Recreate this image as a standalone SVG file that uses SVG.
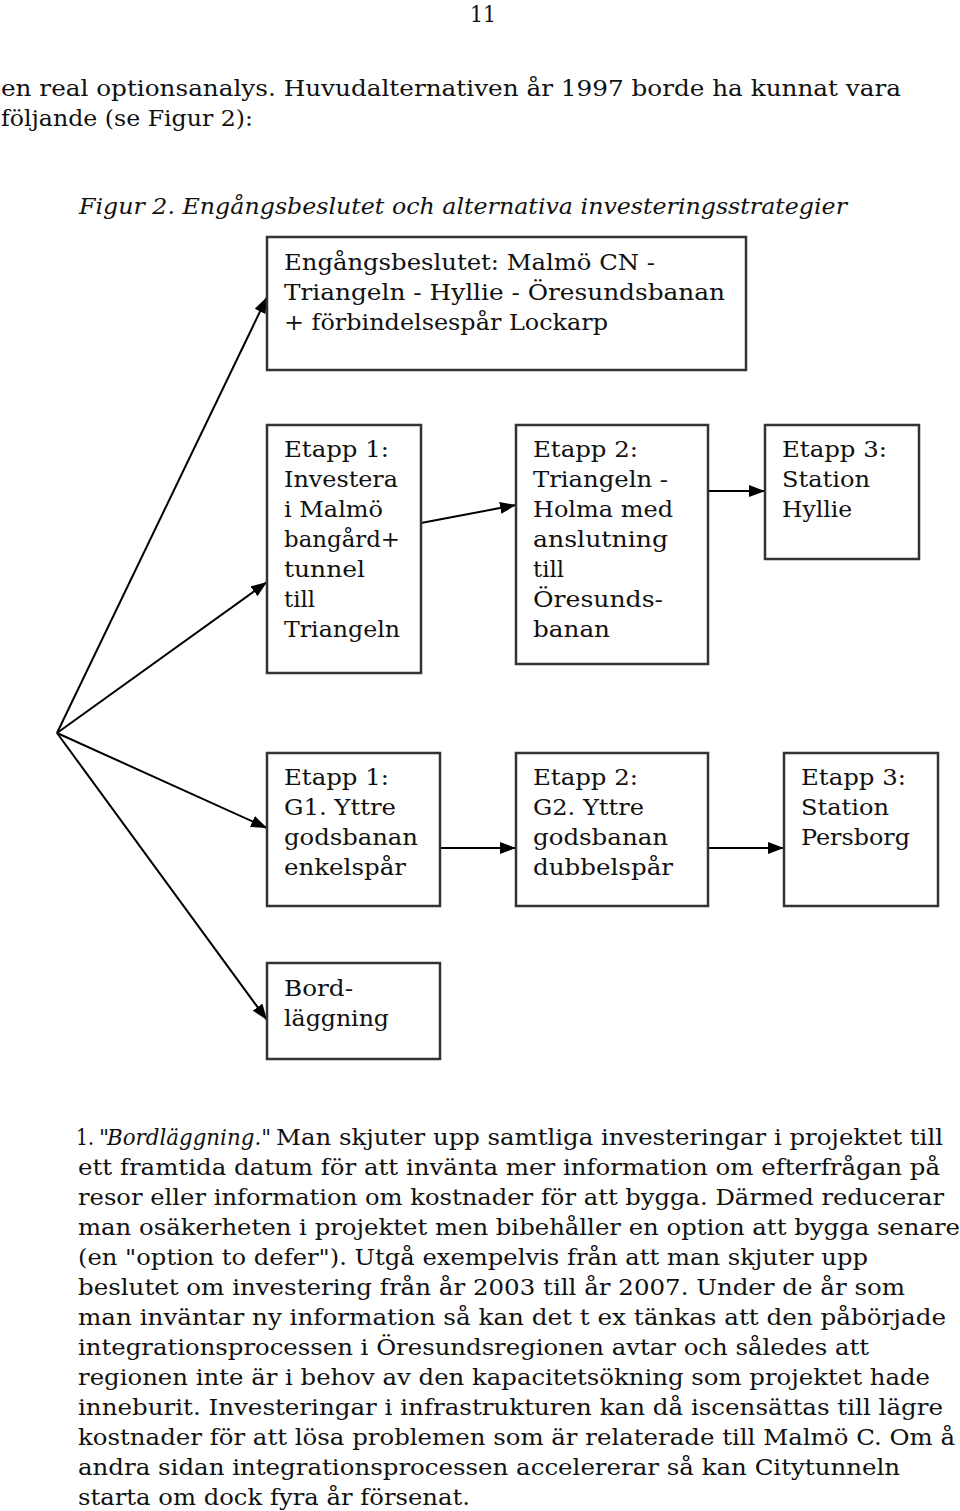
<svg xmlns="http://www.w3.org/2000/svg" width="960" height="1511" viewBox="0 0 960 1511">
<style>
  .t { font-family: "DejaVu Serif", "Liberation Serif", serif; font-size: 22px; fill: #111; }
  .i { font-style: italic; }
  .box { fill: #fff; stroke: #333; stroke-width: 2.5; }
  .con { stroke: #000; stroke-width: 2; fill: none; }
</style>
<defs>
  <marker id="ah" markerUnits="userSpaceOnUse" markerWidth="16" markerHeight="12" refX="16" refY="6" orient="auto">
    <path d="M0,0 L16,6 L0,12 z" fill="#000"/>
  </marker>
</defs>
<rect width="960" height="1511" fill="#fff"/>

<g id="page-text">
  <text class="t" x="470" y="22" textLength="26" lengthAdjust="spacingAndGlyphs">11</text>
  <text class="t" x="1" y="96" textLength="900" lengthAdjust="spacingAndGlyphs">en real optionsanalys. Huvudalternativen år 1997 borde ha kunnat vara</text>
  <text class="t" x="1" y="126" textLength="252" lengthAdjust="spacingAndGlyphs">följande (se Figur 2):</text>
  <text class="t i" x="79" y="214" textLength="768" lengthAdjust="spacingAndGlyphs">Figur 2. Engångsbeslutet och alternativa investeringsstrategier</text>
</g>

<g id="connectors">
  <line class="con" x1="57" y1="733" x2="267" y2="297" marker-end="url(#ah)"/>
  <line class="con" x1="57" y1="733" x2="267" y2="582" marker-end="url(#ah)"/>
  <line class="con" x1="57" y1="733" x2="267" y2="828" marker-end="url(#ah)"/>
  <line class="con" x1="57" y1="733" x2="267" y2="1020" marker-end="url(#ah)"/>
  <line class="con" x1="421" y1="523" x2="516" y2="505" marker-end="url(#ah)"/>
  <line class="con" x1="708" y1="491" x2="765" y2="491" marker-end="url(#ah)"/>
  <line class="con" x1="440" y1="848" x2="516" y2="848" marker-end="url(#ah)"/>
  <line class="con" x1="708" y1="848" x2="784" y2="848" marker-end="url(#ah)"/>
</g>

<g id="node-engang">
  <rect class="box" x="267" y="237" width="479" height="133"/>
  <text class="t" x="284" y="270" textLength="371" lengthAdjust="spacingAndGlyphs">Engångsbeslutet: Malmö CN -</text>
  <text class="t" x="284" y="300" textLength="441" lengthAdjust="spacingAndGlyphs">Triangeln - Hyllie - Öresundsbanan</text>
  <text class="t" x="284" y="330" textLength="324" lengthAdjust="spacingAndGlyphs">+ förbindelsespår Lockarp</text>
</g>

<g id="node-etapp1">
  <rect class="box" x="267" y="425" width="154" height="248"/>
  <text class="t" x="284" y="457" textLength="105" lengthAdjust="spacingAndGlyphs">Etapp 1:</text>
  <text class="t" x="284" y="487" textLength="114" lengthAdjust="spacingAndGlyphs">Investera</text>
  <text class="t" x="284" y="517" textLength="99" lengthAdjust="spacingAndGlyphs">i Malmö</text>
  <text class="t" x="284" y="547" textLength="116" lengthAdjust="spacingAndGlyphs">bangård+</text>
  <text class="t" x="284" y="577" textLength="81" lengthAdjust="spacingAndGlyphs">tunnel</text>
  <text class="t" x="284" y="607" textLength="31" lengthAdjust="spacingAndGlyphs">till</text>
  <text class="t" x="284" y="637" textLength="116" lengthAdjust="spacingAndGlyphs">Triangeln</text>
</g>

<g id="node-etapp2">
  <rect class="box" x="516" y="425" width="192" height="239"/>
  <text class="t" x="533" y="457" textLength="105" lengthAdjust="spacingAndGlyphs">Etapp 2:</text>
  <text class="t" x="533" y="487" textLength="135" lengthAdjust="spacingAndGlyphs">Triangeln -</text>
  <text class="t" x="533" y="517" textLength="140" lengthAdjust="spacingAndGlyphs">Holma med</text>
  <text class="t" x="533" y="547" textLength="135" lengthAdjust="spacingAndGlyphs">anslutning</text>
  <text class="t" x="533" y="577" textLength="31" lengthAdjust="spacingAndGlyphs">till</text>
  <text class="t" x="533" y="607" textLength="130" lengthAdjust="spacingAndGlyphs">Öresunds-</text>
  <text class="t" x="533" y="637" textLength="77" lengthAdjust="spacingAndGlyphs">banan</text>
</g>

<g id="node-etapp3">
  <rect class="box" x="765" y="425" width="154" height="134"/>
  <text class="t" x="782" y="457" textLength="105" lengthAdjust="spacingAndGlyphs">Etapp 3:</text>
  <text class="t" x="782" y="487" textLength="88" lengthAdjust="spacingAndGlyphs">Station</text>
  <text class="t" x="782" y="517" textLength="70" lengthAdjust="spacingAndGlyphs">Hyllie</text>
</g>

<g id="node-g1">
  <rect class="box" x="267" y="753" width="173" height="153"/>
  <text class="t" x="284" y="785" textLength="105" lengthAdjust="spacingAndGlyphs">Etapp 1:</text>
  <text class="t" x="284" y="815" textLength="112" lengthAdjust="spacingAndGlyphs">G1. Yttre</text>
  <text class="t" x="284" y="845" textLength="134" lengthAdjust="spacingAndGlyphs">godsbanan</text>
  <text class="t" x="284" y="875" textLength="122" lengthAdjust="spacingAndGlyphs">enkelspår</text>
</g>

<g id="node-g2">
  <rect class="box" x="516" y="753" width="192" height="153"/>
  <text class="t" x="533" y="785" textLength="105" lengthAdjust="spacingAndGlyphs">Etapp 2:</text>
  <text class="t" x="533" y="815" textLength="111" lengthAdjust="spacingAndGlyphs">G2. Yttre</text>
  <text class="t" x="533" y="845" textLength="135" lengthAdjust="spacingAndGlyphs">godsbanan</text>
  <text class="t" x="533" y="875" textLength="140" lengthAdjust="spacingAndGlyphs">dubbelspår</text>
</g>

<g id="node-g3">
  <rect class="box" x="784" y="753" width="154" height="153"/>
  <text class="t" x="801" y="785" textLength="105" lengthAdjust="spacingAndGlyphs">Etapp 3:</text>
  <text class="t" x="801" y="815" textLength="88" lengthAdjust="spacingAndGlyphs">Station</text>
  <text class="t" x="801" y="845" textLength="109" lengthAdjust="spacingAndGlyphs">Persborg</text>
</g>

<g id="node-bord">
  <rect class="box" x="267" y="963" width="173" height="96"/>
  <text class="t" x="284" y="996" textLength="69" lengthAdjust="spacingAndGlyphs">Bord-</text>
  <text class="t" x="284" y="1026" textLength="105" lengthAdjust="spacingAndGlyphs">läggning</text>
</g>

<g id="paragraph">
  <text class="t" x="76" y="1145" textLength="18" lengthAdjust="spacingAndGlyphs">1.</text>
  <text class="t" x="99" y="1145">"</text>
  <text class="t i" x="107" y="1145" textLength="164" lengthAdjust="spacingAndGlyphs">Bordläggning."</text>
  <text class="t" x="276" y="1145" textLength="667" lengthAdjust="spacingAndGlyphs">Man skjuter upp samtliga investeringar i projektet till</text>
  <text class="t" x="78" y="1175" textLength="862" lengthAdjust="spacingAndGlyphs">ett framtida datum för att invänta mer information om efterfrågan på</text>
  <text class="t" x="78" y="1205" textLength="866" lengthAdjust="spacingAndGlyphs">resor eller information om kostnader för att bygga. Därmed reducerar</text>
  <text class="t" x="78" y="1235" textLength="882" lengthAdjust="spacingAndGlyphs">man osäkerheten i projektet men bibehåller en option att bygga senare</text>
  <text class="t" x="78" y="1265" textLength="790" lengthAdjust="spacingAndGlyphs">(en "option to defer"). Utgå exempelvis från att man skjuter upp</text>
  <text class="t" x="78" y="1295" textLength="827" lengthAdjust="spacingAndGlyphs">beslutet om investering från år 2003 till år 2007. Under de år som</text>
  <text class="t" x="78" y="1325" textLength="868" lengthAdjust="spacingAndGlyphs">man inväntar ny information så kan det t ex tänkas att den påbörjade</text>
  <text class="t" x="78" y="1355" textLength="791" lengthAdjust="spacingAndGlyphs">integrationsprocessen i Öresundsregionen avtar och således att</text>
  <text class="t" x="78" y="1385" textLength="852" lengthAdjust="spacingAndGlyphs">regionen inte är i behov av den kapacitetsökning som projektet hade</text>
  <text class="t" x="78" y="1415" textLength="865" lengthAdjust="spacingAndGlyphs">inneburit. Investeringar i infrastrukturen kan då iscensättas till lägre</text>
  <text class="t" x="78" y="1445" textLength="877" lengthAdjust="spacingAndGlyphs">kostnader för att lösa problemen som är relaterade till Malmö C. Om å</text>
  <text class="t" x="78" y="1475" textLength="822" lengthAdjust="spacingAndGlyphs">andra sidan integrationsprocessen accelererar så kan Citytunneln</text>
  <text class="t" x="78" y="1505" textLength="392" lengthAdjust="spacingAndGlyphs">starta om dock fyra år försenat.</text>
</g>
</svg>
